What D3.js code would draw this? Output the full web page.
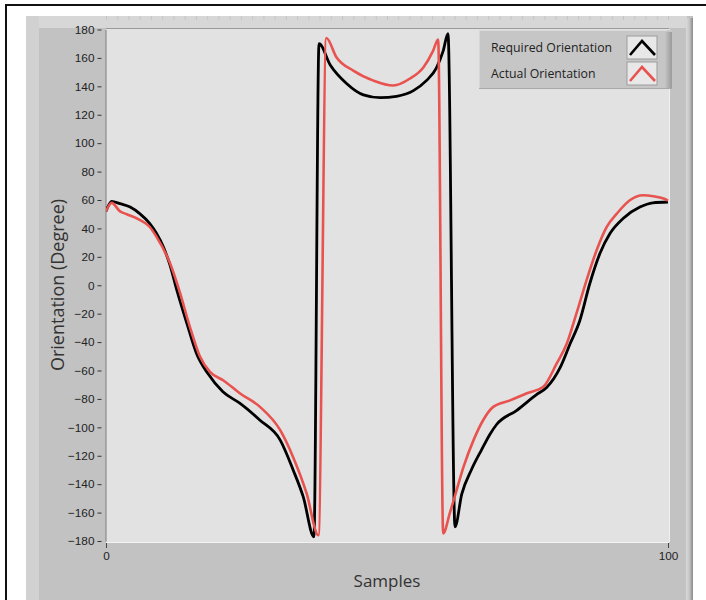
<!DOCTYPE html>
<html>
<head>
<meta charset="utf-8">
<script src="https://cdn.jsdelivr.net/npm/d3@7"></script>
<style>
  html, body { margin: 0; padding: 0; background: #ffffff; }
  svg { display: block; }
</style>
</head>
<body>
<svg id="chart" width="706" height="600"></svg>
<script>
// ---- data ----
const seriesNames = ["Required Orientation", "Actual Orientation"];
const seriesColors = ["#000000", "#e8524f"];

const requiredSamples = [0, 1, 2.5, 4.3, 6, 7.8, 9, 10.2, 11.4, 12.6, 14.4, 16.1, 18.1, 20.8, 23.8, 27.4, 31, 33.3, 35.1, 37.0,
  37.9, 39.9, 42.8, 45.8, 48.8, 51.7, 54.7, 57, 58.8, 60, 60.85,
  62.1, 63.3, 65, 66.8, 68.3, 69.5, 73.1, 76.6, 78.4, 80.8, 82.6, 84.3, 86.1, 87.9, 89.7, 92, 95, 97.3, 100];
const requiredValues = [52, 59, 57.4, 55, 50.4, 43.4, 36.4, 27, 14, -3.5, -27, -48, -62, -75, -83, -95, -109, -130, -149, -177,
  170, 155, 142, 134, 132, 133, 137, 144, 153, 165, 177,
  -170, -147, -130, -116, -105, -98, -88, -77, -72, -58, -41, -25, 1.4, 22.5, 36.6, 47, 55, 58, 58.6];

const actualSamples = [0, 1, 2.5, 3.7, 6, 7.8, 9, 11.4, 13.2, 14.9, 16.7, 18.5, 20.9, 23.8, 27.4, 31, 33.3, 35.7, 37.8,
  39.2, 41, 44, 47.6, 51.1, 54.1, 56.5, 58.2, 59.1,
  60, 61.2, 62.4, 63.6, 65.4, 67.1, 68.9, 71.9, 74.9, 77.8, 80.2, 82, 83.7, 85.5, 87.3, 89.1, 90.9, 93.2, 95.6, 97.4, 99.2, 100];
const actualValues = [52, 58, 52, 50, 46, 41, 34, 15.5, -5.7, -29, -50, -61, -67, -76, -85.6, -102, -121, -146.5, -176,
  174, 160.5, 151, 144, 140.6, 145.5, 153.5, 165, 173,
  -174.6, -160, -144, -128, -109, -95, -85.6, -81, -76, -71.5, -55, -41, -20, 3.5, 24.6, 41, 50.4, 59.8, 63.3, 62.6, 61, 59.5];

const yTickValues = [-180, -160, -140, -120, -100, -80, -60, -40, -20, 0, 20, 40, 60, 80, 100, 120, 140, 160, 180];
const xTickValues = [0, 100];
const xTitle = "Samples";
const yTitle = "Orientation (Degree)";

// ---- drawing ----
const svg = d3.select("#chart");
const defs = svg.append("defs");
const gradR = defs.append("linearGradient").attr("id", "bevelR").attr("x1", "0").attr("x2", "1").attr("y1", "0").attr("y2", "0");
gradR.append("stop").attr("offset", "0%").attr("stop-color", "#d9d9d9");
gradR.append("stop").attr("offset", "45%").attr("stop-color", "#c8c8c8");
gradR.append("stop").attr("offset", "100%").attr("stop-color", "#8a8a8a");
const gradL = defs.append("linearGradient").attr("id", "legShadow").attr("x1", "0").attr("x2", "1").attr("y1", "0").attr("y2", "0");
gradL.append("stop").attr("offset", "0%").attr("stop-color", "#c4c4c4");
gradL.append("stop").attr("offset", "100%").attr("stop-color", "#9a9a9a");

// outer frame (left and top)
svg.append("line").attr("x1", 6).attr("x2", 6).attr("y1", 4).attr("y2", 600).attr("stroke", "#111").attr("stroke-width", 2);
svg.append("line").attr("x1", 5).attr("x2", 706).attr("y1", 5).attr("y2", 5).attr("stroke", "#111").attr("stroke-width", 2);

// grey panel
svg.append("rect").attr("x", 26).attr("y", 16).attr("width", 667).attr("height", 584).attr("fill", "#c2c2c2");
svg.append("rect").attr("x", 26).attr("y", 16).attr("width", 661).attr("height", 12).attr("fill", "#d7d7d7");
svg.append("rect").attr("x", 26).attr("y", 16).attr("width", 13).attr("height", 584).attr("fill", "#d1d1d1");
svg.append("rect").attr("x", 686).attr("y", 18).attr("width", 7).attr("height", 582).attr("fill", "url(#bevelR)");

const plot = { left: 106, top: 29, right: 669, bottom: 542 };
const x = d3.scaleLinear().domain([0, 100]).range([plot.left, 668]);
const y = d3.scaleLinear().domain([-180, 180]).range([541, 29.5]);

// faint ruler ticks in top strip
const rulerTicks = x.ticks(50);
svg.append("g").selectAll("line").data(rulerTicks).join("line")
  .attr("x1", d => x(d) + 0.5).attr("x2", d => x(d) + 0.5)
  .attr("y1", 16).attr("y2", 20).attr("stroke", "#c6c6c6").attr("stroke-width", 1);

// plot area
svg.append("rect").attr("x", plot.left).attr("y", plot.top)
  .attr("width", plot.right - plot.left).attr("height", plot.bottom - plot.top).attr("fill", "#e2e2e2");
svg.append("line").attr("x1", plot.left).attr("x2", plot.right).attr("y1", 28.5).attr("y2", 28.5).attr("stroke", "#9a9a9a");
svg.append("line").attr("x1", plot.left).attr("x2", plot.right).attr("y1", plot.bottom + 0.5).attr("y2", plot.bottom + 0.5).attr("stroke", "#f2f2f2");
svg.append("line").attr("x1", plot.right + 0.5).attr("x2", plot.right + 0.5).attr("y1", plot.top).attr("y2", plot.bottom).attr("stroke", "#f0f0f0");

// y axis
const yAxis = d3.axisLeft(y).tickValues(yTickValues).tickSize(4).tickPadding(3).tickSizeOuter(0);
const gy = svg.append("g").attr("transform", `translate(${plot.left - 0.5},0)`).call(yAxis);
gy.select(".domain").attr("stroke", "#7d7d7d");
gy.selectAll(".tick line").attr("stroke", "#333").attr("transform", "translate(-4,0)");
gy.selectAll(".tick text").attr("font-family", "'Liberation Sans', Arial, sans-serif")
  .attr("font-size", 11.8).attr("fill", "#222").attr("dx", -4);

// x axis
const xAxis = d3.axisBottom(x).tickValues(xTickValues).tickSize(5).tickPadding(4).tickSizeOuter(0);
const gx = svg.append("g").attr("transform", `translate(0,${plot.bottom + 1})`).call(xAxis);
gx.select(".domain").remove();
gx.selectAll(".tick line").attr("stroke", "#444");
gx.selectAll(".tick text").attr("font-family", "'Liberation Sans', Arial, sans-serif")
  .attr("font-size", 11.8).attr("fill", "#222");

// titles
svg.append("text").attr("x", 387).attr("y", 587).attr("text-anchor", "middle")
  .attr("font-family", "'Open Sans', sans-serif").attr("font-size", 17).attr("fill", "#333").text(xTitle);
svg.append("text").attr("transform", "translate(64,285) rotate(-90)").attr("text-anchor", "middle")
  .attr("font-family", "'Open Sans', sans-serif").attr("font-size", 18).attr("fill", "#333").text(yTitle);

// lines
const line = d3.line().x(d => x(d[0])).y(d => y(d[1])).curve(d3.curveMonotoneX);
const reqData = requiredSamples.map((s, i) => [s, requiredValues[i]]);
const actData = actualSamples.map((s, i) => [s, actualValues[i]]);
const clip = defs.append("clipPath").attr("id", "plotClip");
clip.append("rect").attr("x", plot.left).attr("y", plot.top - 3).attr("width", plot.right - plot.left).attr("height", plot.bottom - plot.top + 3);
const gLines = svg.append("g").attr("clip-path", "url(#plotClip)");
gLines.append("path").datum(reqData).attr("d", line).attr("fill", "none")
  .attr("stroke", seriesColors[0]).attr("stroke-width", 2.8).attr("stroke-linejoin", "round");
gLines.append("path").datum(actData).attr("d", line).attr("fill", "none")
  .attr("stroke", seriesColors[1]).attr("stroke-width", 2.6).attr("stroke-linejoin", "round");

// legend
const lg = svg.append("g").attr("transform", "translate(479,30)");
lg.append("rect").attr("x", 0).attr("y", 0).attr("width", 193).attr("height", 59).attr("fill", "#c6c6c6");
lg.append("rect").attr("x", 186).attr("y", 2).attr("width", 7).attr("height", 57).attr("fill", "url(#legShadow)");
lg.append("line").attr("x1", 0).attr("x2", 188).attr("y1", 0.5).attr("y2", 0.5).attr("stroke", "#dadada");
lg.append("line").attr("x1", 0.5).attr("x2", 0.5).attr("y1", 0).attr("y2", 59).attr("stroke", "#d6d6d6");
lg.append("line").attr("x1", 0).attr("x2", 193).attr("y1", 58.5).attr("y2", 58.5).attr("stroke", "#a9a9a9");
const rows = lg.selectAll("g.row").data(seriesNames).join("g").attr("class", "row")
  .attr("transform", (d, i) => `translate(0,${i * 26})`);
rows.append("text").attr("x", 12).attr("y", 22).attr("font-family", "'Open Sans', sans-serif")
  .attr("font-size", 12.3).attr("fill", "#222").text(d => d);
rows.append("rect").attr("x", 148).attr("y", 6).attr("width", 30).attr("height", 23)
  .attr("fill", "#e8e8e8").attr("stroke", "#9c9c9c").attr("stroke-width", 1);
rows.append("path").attr("d", "M151,25 L163,11 L176,25").attr("fill", "none")
  .attr("stroke", (d, i) => seriesColors[i]).attr("stroke-width", 2.6);
</script>
</body>
</html>
